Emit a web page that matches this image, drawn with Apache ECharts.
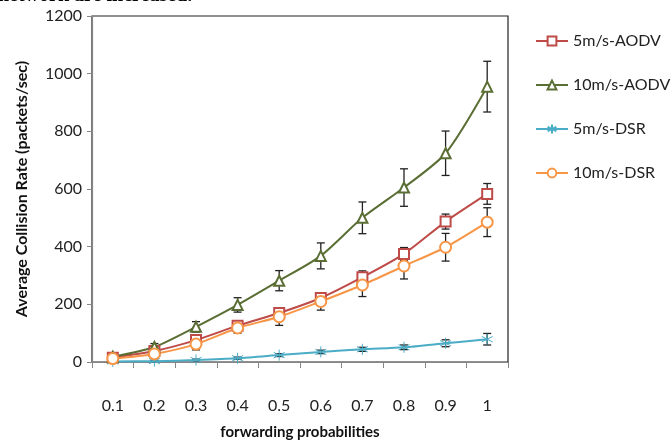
<!DOCTYPE html>
<html>
<head>
<meta charset="utf-8">
<script src="https://cdn.jsdelivr.net/npm/echarts@6/dist/echarts.min.js"></script>
<style>
  html, body { margin: 0; padding: 0; background: #fff; }
  #chart { width: 671px; height: 442px; }
</style>
</head>
<body>
<div id="chart"></div>
<script>
// forwarding probability categories
const categories = ['0.1', '0.2', '0.3', '0.4', '0.5', '0.6', '0.7', '0.8', '0.9', '1']

// average collision rate (packets/sec)
const aodv5 = [15, 38, 76, 126, 170, 222, 294, 375, 487, 583]
const aodv10 = [18, 52, 122, 198, 282, 368, 500, 605, 724, 955]
const dsr5 = [2, 3, 7, 13, 24, 35, 44, 51, 65, 79]
const dsr10 = [12, 28, 62, 118, 157, 210, 267, 333, 398, 485]

// error bar half-widths
const aodv5Err = [8, 10, 14, 14, 18, 18, 22, 22, 26, 36]
const aodv10Err = [8, 12, 18, 25, 35, 45, 55, 65, 77, 88]
const dsr5Err = [2, 2, 3, 4, 5, 6, 7, 8, 12, 20]
const dsr10Err = [8, 10, 20, 18, 30, 30, 40, 45, 48, 50]

const yTicks = { min: 0, max: 1200, interval: 200 }

const starPath = 'path://M0,-6L0,6M-5.2,-3L5.2,3M-5.2,3L5.2,-3'

function errorSeries(values, errs) {
  return {
    type: 'custom',
    silent: true,
    z: 3,
    data: values.map((v, i) => [i, v - errs[i], v + errs[i]]),
    renderItem(params, api) {
      const lo = api.coord([api.value(0), api.value(1)])
      const hi = api.coord([api.value(0), api.value(2)])
      const w = 4
      const style = { stroke: '#222', lineWidth: 1.3 }
      return {
        type: 'group',
        children: [
          { type: 'line', shape: { x1: hi[0], y1: hi[1], x2: lo[0], y2: lo[1] }, style },
          { type: 'line', shape: { x1: hi[0] - w, y1: hi[1], x2: hi[0] + w, y2: hi[1] }, style },
          { type: 'line', shape: { x1: lo[0] - w, y1: lo[1], x2: lo[0] + w, y2: lo[1] }, style }
        ]
      }
    }
  }
}

function lineSeries(name, values, color, symbol, size) {
  return {
    name,
    type: 'line',
    data: values,
    smooth: 0.25,
    symbol,
    symbolSize: size,
    z: 4,
    lineStyle: { color, width: 2 },
    itemStyle: { color, borderColor: color, borderWidth: 1 }
  }
}

const chart = echarts.init(document.getElementById('chart'))

chart.setOption({
  animation: false,
  grid: {
    left: 92, right: 163, top: 16, bottom: 80,
    outerBoundsMode: 'none', containLabel: false,
    show: true, borderColor: '#222', borderWidth: 1.2
  },
  legend: {
    data: ['5m/s-AODV', '10m/s-AODV', '5m/s-DSR', '10m/s-DSR'],
    orient: 'vertical',
    left: 530,
    top: 28,
    itemGap: 28,
    itemWidth: 32,
    itemHeight: 11,
    textStyle: { fontFamily: 'Lato', fontSize: 16, color: '#222' }
  },
  xAxis: {
    type: 'category',
    data: categories,
    boundaryGap: true,
    name: 'forwarding probabilities',
    nameLocation: 'middle',
    nameGap: 63,
    nameTextStyle: { fontFamily: 'Lato', fontSize: 15, fontWeight: 'bold', color: '#111' },
    axisLine: { lineStyle: { color: '#868686', width: 1.2 } },
    axisTick: { show: true, length: 6, inside: false, lineStyle: { color: '#868686' } },
    axisLabel: { fontFamily: 'Lato', fontSize: 16, color: '#222', margin: 36 },
    splitLine: { show: false }
  },
  yAxis: {
    type: 'value',
    min: yTicks.min,
    max: yTicks.max,
    interval: yTicks.interval,
    name: 'Average Collision Rate (packets/sec)',
    nameLocation: 'middle',
    nameGap: 62,
    nameTextStyle: { fontFamily: 'Lato', fontSize: 16, fontWeight: 'bold', color: '#111' },
    axisLine: { show: true, lineStyle: { color: '#868686', width: 1.2 } },
    axisTick: { show: true, length: 5, lineStyle: { color: '#868686' } },
    axisLabel: { fontFamily: 'Lato', fontSize: 16, color: '#222', margin: 10, formatter: v => String(v) },
    splitLine: { show: false }
  },
  graphic: [{
    type: 'text',
    left: -2,
    top: -14,
    style: { text: 'network are increased.', font: 'bold 20px "Liberation Serif"', fill: '#000' }
  }],
  series: [
    lineSeries('5m/s-AODV', aodv5, '#be4b48', 'emptyRect', 10),
    lineSeries('10m/s-AODV', aodv10, '#5a6e34', 'emptyTriangle', 10),
    lineSeries('5m/s-DSR', dsr5, '#4bacc6', starPath, 11),
    lineSeries('10m/s-DSR', dsr10, '#f79646', 'emptyCircle', 11),
    errorSeries(aodv5, aodv5Err),
    errorSeries(aodv10, aodv10Err),
    errorSeries(dsr5, dsr5Err),
    errorSeries(dsr10, dsr10Err)
  ]
})
</script>
</body>
</html>
